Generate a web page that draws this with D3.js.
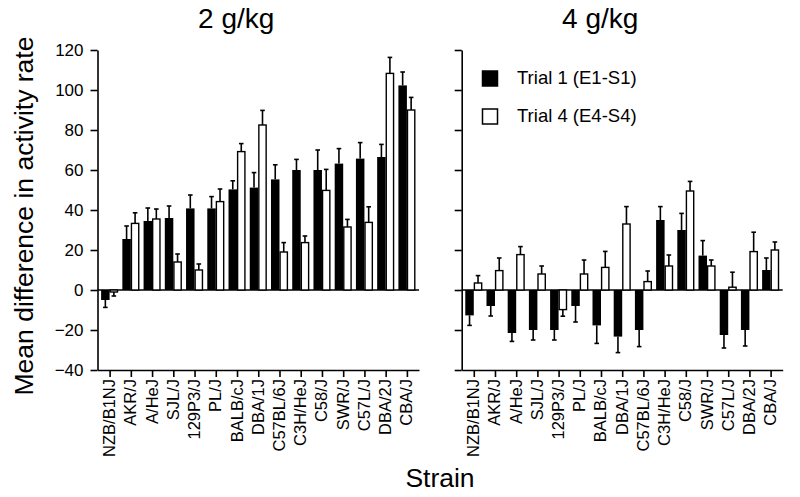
<!DOCTYPE html>
<html>
<head>
<meta charset="utf-8">
<script src="https://cdn.jsdelivr.net/npm/d3@7"></script>
<style>
  html, body { margin: 0; padding: 0; background: #fff; }
  svg { display: block; font-family: "Liberation Sans", Arial, Helvetica, sans-serif; }
</style>
</head>
<body>
<svg id="chart" width="800" height="497"></svg>
<script>
const strains = ["NZB/B1NJ","AKR/J","A/HeJ","SJL/J","129P3/J","PL/J","BALB/cJ","DBA/1J","C57BL/6J","C3H/HeJ","C58/J","SWR/J","C57L/J","DBA/2J","CBA/J"];

const trial1_2g     = [-5, 25.5, 34.5, 36, 40.8, 40.8, 50.3, 51.2, 55.3, 60, 60, 63.2, 65.7, 66.5, 102.3];
const trial1_2g_err = [3.7, 6.5, 6.5, 6, 6.7, 5.9, 4.3, 7.5, 7.3, 5.3, 10, 7.5, 8, 6.3, 6.7];
const trial4_2g     = [-1, 33.3, 35.5, 14, 10, 44.2, 69.2, 82.5, 19, 23.7, 49.8, 31.5, 33.8, 108.3, 90];
const trial4_2g_err = [2, 5.3, 5, 4, 3, 6.3, 4, 7.3, 4.7, 3.3, 10.5, 3.8, 7.8, 8, 6.3];

const trial1_4g     = [-12.7, -8, -21.5, -20, -20, -8, -17.7, -23.3, -20, 35, 30, 17.2, -22.5, -20, 10];
const trial1_4g_err = [5, 5, 4.2, 5, 5, 8, 9, 8, 8.3, 6.7, 8.3, 7.5, 6.5, 8, 6];
const trial4_4g     = [3.5, 9.7, 17.7, 8, -9.8, 8, 11.3, 33, 4.2, 12, 49.5, 12, 1.4, 19.2, 20];
const trial4_4g_err = [3.7, 6.3, 4, 4, 3.3, 7, 8, 8.7, 5.3, 5.5, 4.8, 3, 7.5, 9.7, 4];

const yTicks = [-40, -20, 0, 20, 40, 60, 80, 100, 120];
const panelTitles = ["2 g/kg", "4 g/kg"];
const legendLabels = ["Trial 1 (E1-S1)", "Trial 4 (E4-S4)"];

const svg = d3.select("#chart");
const y = d3.scaleLinear().domain([-40, 120]).range([370, 50]);

const panels = [
  { x0: 97.5, x1: 419, title: panelTitles[0], t1: trial1_2g, e1: trial1_2g_err, t4: trial4_2g, e4: trial4_2g_err, labels: true },
  { x0: 461.7, x1: 782.7, title: panelTitles[1], t1: trial1_4g, e1: trial1_4g_err, t4: trial4_4g, e4: trial4_4g_err, labels: false }
];

const bw = 8.5;

panels.forEach(p => {
  const x = d3.scalePoint().domain(strains).range([p.x0, p.x1]).padding(0.57);
  const g = svg.append("g");

  // y axis
  const ya = d3.axisLeft(y).tickValues(yTicks).tickSize(7).tickSizeOuter(0).tickPadding(7)
    .tickFormat(p.labels ? d3.format("d") : "");
  const yg = g.append("g").attr("transform", `translate(${p.x0},0)`).call(ya);
  yg.select(".domain").attr("stroke-width", 1.6);
  yg.selectAll(".tick line").attr("stroke-width", 1.6);
  yg.selectAll(".tick text").attr("font-size", 17).attr("fill", "#000")
    .attr("font-family", "Liberation Sans, Arial, sans-serif");

  // x axis at bottom
  const xa = d3.axisBottom(x).tickSize(7).tickSizeOuter(0).tickFormat("");
  const xg = g.append("g").attr("transform", `translate(0,${y(-40)})`).call(xa);
  xg.select(".domain").attr("stroke-width", 1.6);
  xg.selectAll(".tick line").attr("stroke-width", 1.6);

  // category labels
  g.selectAll("text.cat").data(strains).enter().append("text")
    .attr("class", "cat")
    .attr("transform", d => `translate(${x(d) + 5.5},${y(-40) + 9}) rotate(-90)`)
    .attr("text-anchor", "end")
    .attr("font-size", 16.5)
    .text(d => d);

  // zero line
  g.append("line").attr("x1", p.x0).attr("x2", p.x1).attr("y1", y(0)).attr("y2", y(0))
    .attr("stroke", "#000").attr("stroke-width", 1.6);

  // bars + error bars
  const series = [
    { vals: p.t1, errs: p.e1, off: -bw, fill: "#000" },
    { vals: p.t4, errs: p.e4, off: 0, fill: "#fff" }
  ];
  series.forEach(s => {
    const data = strains.map((d, i) => ({ d, v: s.vals[i], e: s.errs[i] }));
    // error bars first (behind bars)
    const eg = g.append("g");
    data.forEach(o => {
      const cx = x(o.d) + s.off + bw / 2;
      const end = o.v >= 0 ? o.v + o.e : o.v - o.e;
      eg.append("line").attr("x1", cx).attr("x2", cx).attr("y1", y(o.v)).attr("y2", y(end))
        .attr("stroke", "#000").attr("stroke-width", 1.6);
      eg.append("line").attr("x1", cx - 2.3).attr("x2", cx + 2.3).attr("y1", y(end)).attr("y2", y(end))
        .attr("stroke", "#000").attr("stroke-width", 1.6);
    });
    g.selectAll(null).data(data).enter().append("rect")
      .attr("x", o => x(o.d) + s.off + (s.fill === "#fff" ? 0.6 : 0))
      .attr("width", s.fill === "#fff" ? bw - 1.2 : bw)
      .attr("y", o => y(Math.max(0, o.v)))
      .attr("height", o => Math.abs(y(o.v) - y(0)))
      .attr("fill", s.fill)
      .attr("stroke", "#000")
      .attr("stroke-width", s.fill === "#fff" ? 1.4 : 0);
  });

  // title
  svg.append("text").attr("x", (p.x0 + p.x1) / 2 - 22).attr("y", 28)
    .attr("text-anchor", "middle").attr("font-size", 28).text(p.title);
});

// legend
const lg = svg.append("g");
legendLabels.forEach((t, i) => {
  const yy = [71, 109][i];
  lg.append("rect").attr("x", 482.5).attr("y", yy).attr("width", 15).attr("height", 15)
    .attr("fill", i === 0 ? "#000" : "#fff").attr("stroke", "#000").attr("stroke-width", 1.5);
  lg.append("text").attr("x", 517).attr("y", yy + 13).attr("font-size", 18.5).text(t);
});

// axis titles
svg.append("text")
  .attr("transform", "translate(33,216) rotate(-90)")
  .attr("text-anchor", "middle").attr("font-size", 26.5)
  .text("Mean difference in activity rate");
svg.append("text").attr("x", 440).attr("y", 487)
  .attr("text-anchor", "middle").attr("font-size", 26.5).text("Strain");
</script>
</body>
</html>
